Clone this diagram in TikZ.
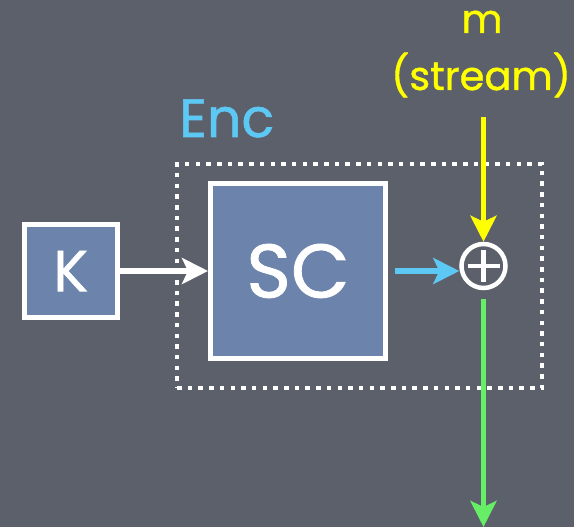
\documentclass[tikz,border=0pt]{standalone}
\usepackage{fontspec}
\setmainfont{Poppins}
\newfontfamily\roundfont{Poppins}[FakeBold=1]
\usetikzlibrary{arrows.meta}
\definecolor{slate}{RGB}{92,96,106}
\definecolor{boxblue}{RGB}{108,132,172}
\definecolor{enccyan}{RGB}{94,200,245}
\definecolor{msgyellow}{RGB}{255,255,0}
\definecolor{outgreen}{RGB}{102,238,102}
\begin{document}
\begin{tikzpicture}[x=1pt,y=-1pt,
  block/.style={draw=white, line width=5pt, fill=boxblue, text=white, inner sep=0pt},
  flow/.style={line width=5.5pt, -{Stealth[length=26pt,width=26pt,inset=6pt]}},
  dotbox/.style={draw=white, line width=4.5pt, dash pattern=on 4.5pt off 6.2pt, inner sep=0pt}]
% backdrop
\fill[slate] (0,0) rectangle (574,527);
\useasboundingbox (0,0) rectangle (574,527);

% encryption boundary
\node[dotbox, minimum width=365pt, minimum height=224pt] (encbox) at (359.5,276) {};
\node[text=enccyan, anchor=base west, inner sep=0pt, font=\roundfont\fontsize{54}{54}\selectfont] (enc) at (179,137) {Enc};

% key and stream cipher
\node[block, minimum width=93.5pt, minimum height=93pt, font=\roundfont\fontsize{58}{58}\selectfont] (K) at (70.75,271) {K};
\node[block, minimum width=175pt, minimum height=175pt, font=\roundfont\fontsize{76}{76}\selectfont] (SC) at (298,271) {SC};

% xor
\node[draw=white, line width=4.5pt, circle, minimum size=44pt, inner sep=0pt] (xor) at (483.5,266) {};
\draw[white, line width=4.5pt] (xor.center) +(-16,0) -- +(16,0) (xor.center) +(0,-16) -- +(0,16);

% message label
\node[text=msgyellow, anchor=base, inner sep=0pt, font=\roundfont\fontsize{40}{40}\selectfont] (mlab) at (482,33) {m};
\node[text=msgyellow, anchor=base, inner sep=0pt, font=\roundfont\fontsize{40}{40}\selectfont] (slab) at (481,90) {(stream)};
\coordinate (msrc) at (483.5,117);
\coordinate (out) at (483.5,527);

% connectors
\draw[flow, white] (K.east) -- (SC.west);
\draw[flow, enccyan] ([xshift=7pt]SC.east) -- ([yshift=-5pt]xor.west);
\draw[flow, msgyellow] (msrc) -- (xor.north);
\draw[flow, outgreen] ([yshift=-9pt]xor.south) -- (out);
\end{tikzpicture}
\end{document}
